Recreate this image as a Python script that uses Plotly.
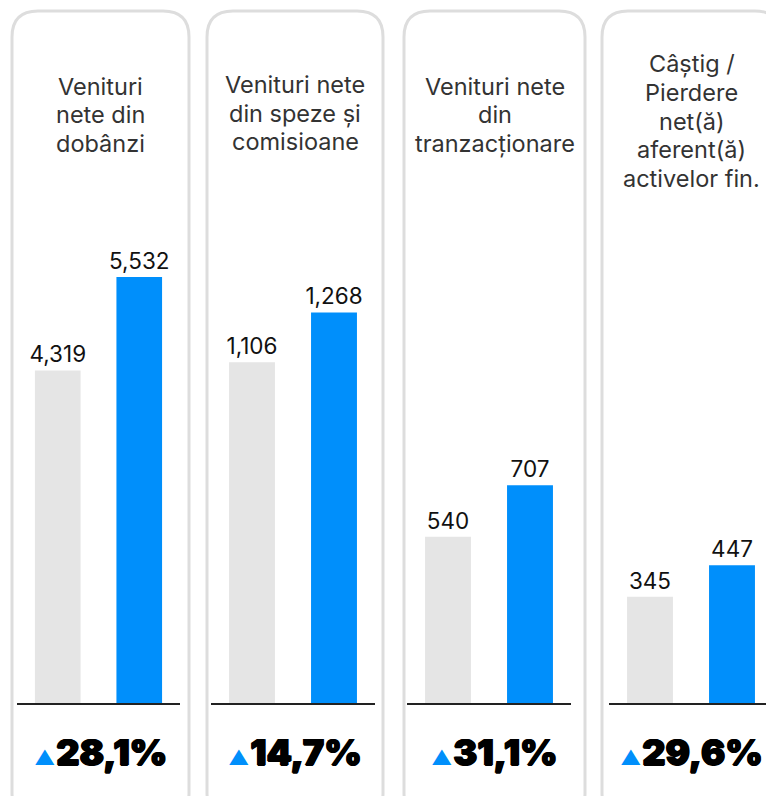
import plotly.graph_objects as go

## data
titles = ["Venituri<br>nete din<br>dobânzi",
          "Venituri nete<br>din speze și<br>comisioane",
          "Venituri nete<br>din<br>tranzacționare",
          "Câștig /<br>Pierdere<br>net(ă)<br>aferent(ă)<br>activelor fin."]
periods = ["anterior", "curent"]
prev_vals = [4319, 1106, 540, 345]
curr_vals = [5532, 1268, 707, 447]
growth = ["28,1%", "14,7%", "31,1%", "29,6%"]
y_max = [8000, 2000, 2000, 2000]

## layout helpers (page pixels -> paper); page has an 8px body margin
OFF = 8
W, H = 774, 796
PLOT_TOP, PLOT_BOT = 87 - OFF, 703 - OFF
PH = PLOT_BOT - PLOT_TOP

def px(x):
    return (x - OFF) / W

def py(y):
    return (PLOT_BOT - (y - OFF)) / PH

domains = [(17, 180), (211, 375), (407, 571), (609, 773)]
cards = [(12, 189), (207, 383), (404, 585), (602, 781)]
title_y = [115, 113, 115, 121]
LINE_H = 28.5

GREY = "#e5e5e5"
BLUE = "#008ffb"

fig = go.Figure()
layout = dict(
    width=W, height=H,
    margin=dict(l=0, r=0, t=PLOT_TOP, b=H - PLOT_BOT),
    paper_bgcolor="white", plot_bgcolor="rgba(0,0,0,0)",
    showlegend=False, bargap=0.44,
    font=dict(family="Inter, sans-serif"),
)

shapes, annotations = [], []
for i in range(4):
    n = "" if i == 0 else str(i + 1)
    fig.add_trace(go.Bar(
        x=periods, y=[prev_vals[i], curr_vals[i]],
        xaxis="x" + n, yaxis="y" + n,
        marker=dict(color=[GREY, BLUE], line=dict(width=0)),
        texttemplate="%{y:,}", textposition="outside", cliponaxis=False,
        constraintext="none",
        textfont=dict(size=22.5, color="#111111", family="Inter, sans-serif"),
        hoverinfo="skip",
    ))
    d0, d1 = domains[i]
    layout["xaxis" + n] = dict(domain=[px(d0), px(d1)], anchor="y" + n,
                               showticklabels=False, showgrid=False, zeroline=False,
                               showline=True, linecolor="#222222", linewidth=1.5)
    layout["yaxis" + n] = dict(domain=[0, 1], anchor="x" + n, range=[0, y_max[i]],
                               showticklabels=False, showgrid=False, zeroline=False)

    # rounded card
    x0, x1 = px(cards[i][0]), px(cards[i][1])
    y0, y1 = py(11), py(820)
    rx, ry = 26 / W, 26 / PH
    path = (f"M {x0+rx},{y0} L {x1-rx},{y0} Q {x1},{y0} {x1},{y0-ry} "
            f"L {x1},{y1+ry} Q {x1},{y1} {x1-rx},{y1} L {x0+rx},{y1} "
            f"Q {x0},{y1} {x0},{y1+ry} L {x0},{y0-ry} Q {x0},{y0} {x0+rx},{y0} Z")
    shapes.append(dict(type="path", path=path, xref="paper", yref="paper",
                       line=dict(color="#dddddd", width=3), layer="below"))

    cx = px((cards[i][0] + cards[i][1]) / 2)
    lines = titles[i].split("<br>")
    for k, line in enumerate(lines):
        ly = title_y[i] + (k - (len(lines) - 1) / 2) * LINE_H
        annotations.append(dict(
            text=line, x=cx, y=py(ly), xref="paper", yref="paper",
            xanchor="center", yanchor="middle", showarrow=False,
            font=dict(size=23.5, color="#333333", family="Inter, sans-serif"),
        ))
    annotations.append(dict(
        text=(f"<span style='font-size:20px;color:{BLUE};text-shadow:none'>▲</span>"
              f"<span style='font-size:4px'> </span>{growth[i]}"),
        x=cx, y=py(752), xref="paper", yref="paper",
        xanchor="center", yanchor="middle", showarrow=False,
        font=dict(size=36, color="#000000", family="Inter, sans-serif", weight=900,
                  shadow="0.8px 0 0 #000, -0.8px 0 0 #000, 0 0.5px 0 #000"),
    ))

layout["shapes"] = shapes
layout["annotations"] = annotations
fig.update_layout(**layout)

fig.write_html("out.html")
